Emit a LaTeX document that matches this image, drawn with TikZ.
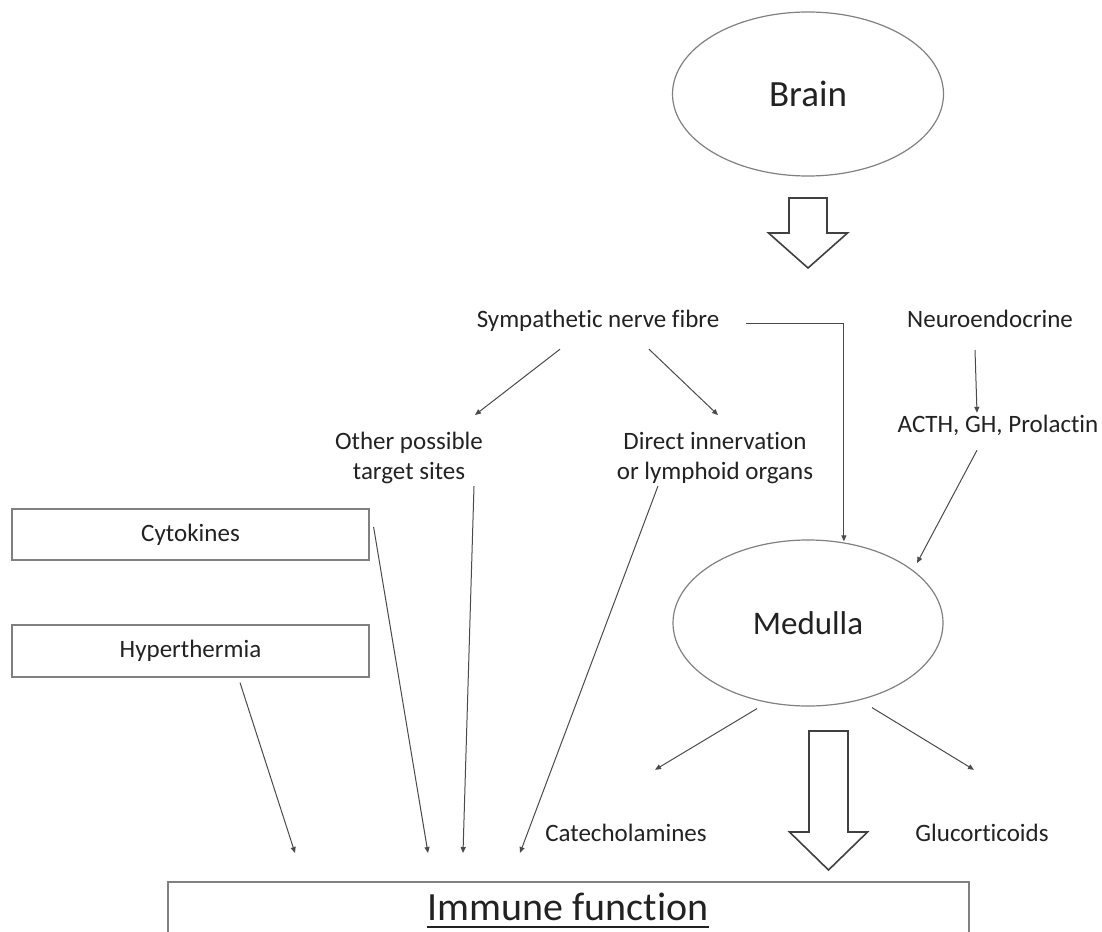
\documentclass[tikz,border=0pt]{standalone}
\usepackage{fontspec}
\setmainfont{Carlito}[Ligatures={NoCommon,NoRare,NoContextual}]
\usetikzlibrary{shapes.geometric,arrows.meta}

\definecolor{linegray}{HTML}{4A4A4A}
\definecolor{boxgray}{HTML}{808080}
\definecolor{textgray}{HTML}{222222}

% hollow block arrow pointing down: centre x, top, shoulder, tip, shaft half width, head half width
\newcommand{\hollowarrow}[6]{%
  \draw[blockarrow] (#1-#5,#2) -- (#1+#5,#2) -- (#1+#5,#3) -- (#1+#6,#3)
    -- (#1,#4) -- (#1-#6,#3) -- (#1-#5,#3) -- cycle;}

\begin{document}
\begin{tikzpicture}[x=1pt, y=-1pt,
	every node/.style={text=textgray},
	tag/.style={inner sep=0pt, font=\fontsize{25}{30}\selectfont, text height=18pt, text depth=6pt},
	tagtwo/.style={inner sep=0pt, font=\fontsize{25}{30}\selectfont, align=center},
	oval/.style={ellipse, draw=boxgray, line width=1.2pt, inner sep=0pt},
	box/.style={draw=boxgray, line width=1.2pt, minimum width=357pt, inner sep=0pt, font=\fontsize{25}{30}\selectfont},
	conn/.style={draw=linegray, line width=1pt, -{Triangle[length=6pt,width=5pt]}},
	blockarrow/.style={draw=black!75, line width=1.6pt, fill=white}]
	\useasboundingbox (0,0) rectangle (1102,931);
	\clip (0,0) rectangle (1102,931);

	% top part
	\node[oval, minimum width=271pt, minimum height=164pt, font=\fontsize{37}{44}\selectfont] (brain) at (808,94) {Brain};
	\hollowarrow{808}{198}{233}{268}{19}{39.5}
	\node[tag] (symp) at (598,321) {Sympathetic nerve fibre};
	\node[tag] (neuro) at (990,321) {Neuroendocrine};
	\node[tagtwo] (other) at (409,458) {Other possible\\target sites};
	\node[tagtwo] (direct) at (715,458) {Direct innervation\\or lymphoid organs};
	\node[tag] (acth) at (998,426) {ACTH, GH, Prolactin};

	% left boxes
	\node[box, minimum height=51pt] (cyto) at (190.5,534.5) {Cytokines};
	\node[box, minimum height=52pt] (hyper) at (190.5,651) {Hyperthermia};

	% medulla part
	\node[oval, minimum width=270pt, minimum height=166pt, font=\fontsize{33}{40}\selectfont] (medulla) at (808,623) {Medulla};
	\hollowarrow{828.5}{731}{832}{870}{19.5}{39}
	\node[tag] (catech) at (626,835) {Catecholamines};
	\node[tag] (gluco) at (982,835) {Glucorticoids};

	% bottom
	\node[draw=boxgray, line width=1.2pt, minimum width=801pt, minimum height=70pt, inner sep=0pt] (immunebox) at (568.5,917) {};
	\node[inner sep=0pt, anchor=base, font=\fontsize{40}{48}\selectfont] (immune) at (568,920) {Immune function};
	\draw[textgray, line width=2.2pt] ([shift={(0,7)}]immune.base west) -- ([shift={(0,7)}]immune.base east);
	\coordinate (hyperin) at (295,853);
	\coordinate (cytoin) at (428,853);
	\coordinate (otherin) at (463,853);
	\coordinate (directin) at (520,853);

	% connectors
	\draw[conn] ([shift={(-38,16)}]symp.south) -- ([shift={(66,-17)}]other.north);
	\draw[conn] ([shift={(51,16)}]symp.south) -- ([shift={(3,-17)}]direct.north);
	\draw[conn, shorten >=1pt] ([shift={(27,2)}]symp.east) -| (medulla.66);
	\draw[conn] ([shift={(-15,17)}]neuro.south) -- ([shift={(-21,-1)}]acth.north);
	\draw[conn] ([shift={(-21,12)}]acth.south) -- ([shift={(109,-60)}]medulla.center);
	\draw[conn] ([shift={(4,-7.5)}]cyto.east) -- (cytoin);
	\draw[conn] ([shift={(49.5,5)}]hyper.south) -- (hyperin);
	\draw[conn] ([shift={(65,2)}]other.south) -- (otherin);
	\draw[conn] ([shift={(-57,2)}]direct.south) -- (directin);
	\draw[conn] ([shift={(-51,2)}]medulla.south) -- ([shift={(29,-53)}]catech.north);
	\draw[conn] ([shift={(64,1)}]medulla.south) -- ([shift={(-8,-53)}]gluco.north);
\end{tikzpicture}
\end{document}
